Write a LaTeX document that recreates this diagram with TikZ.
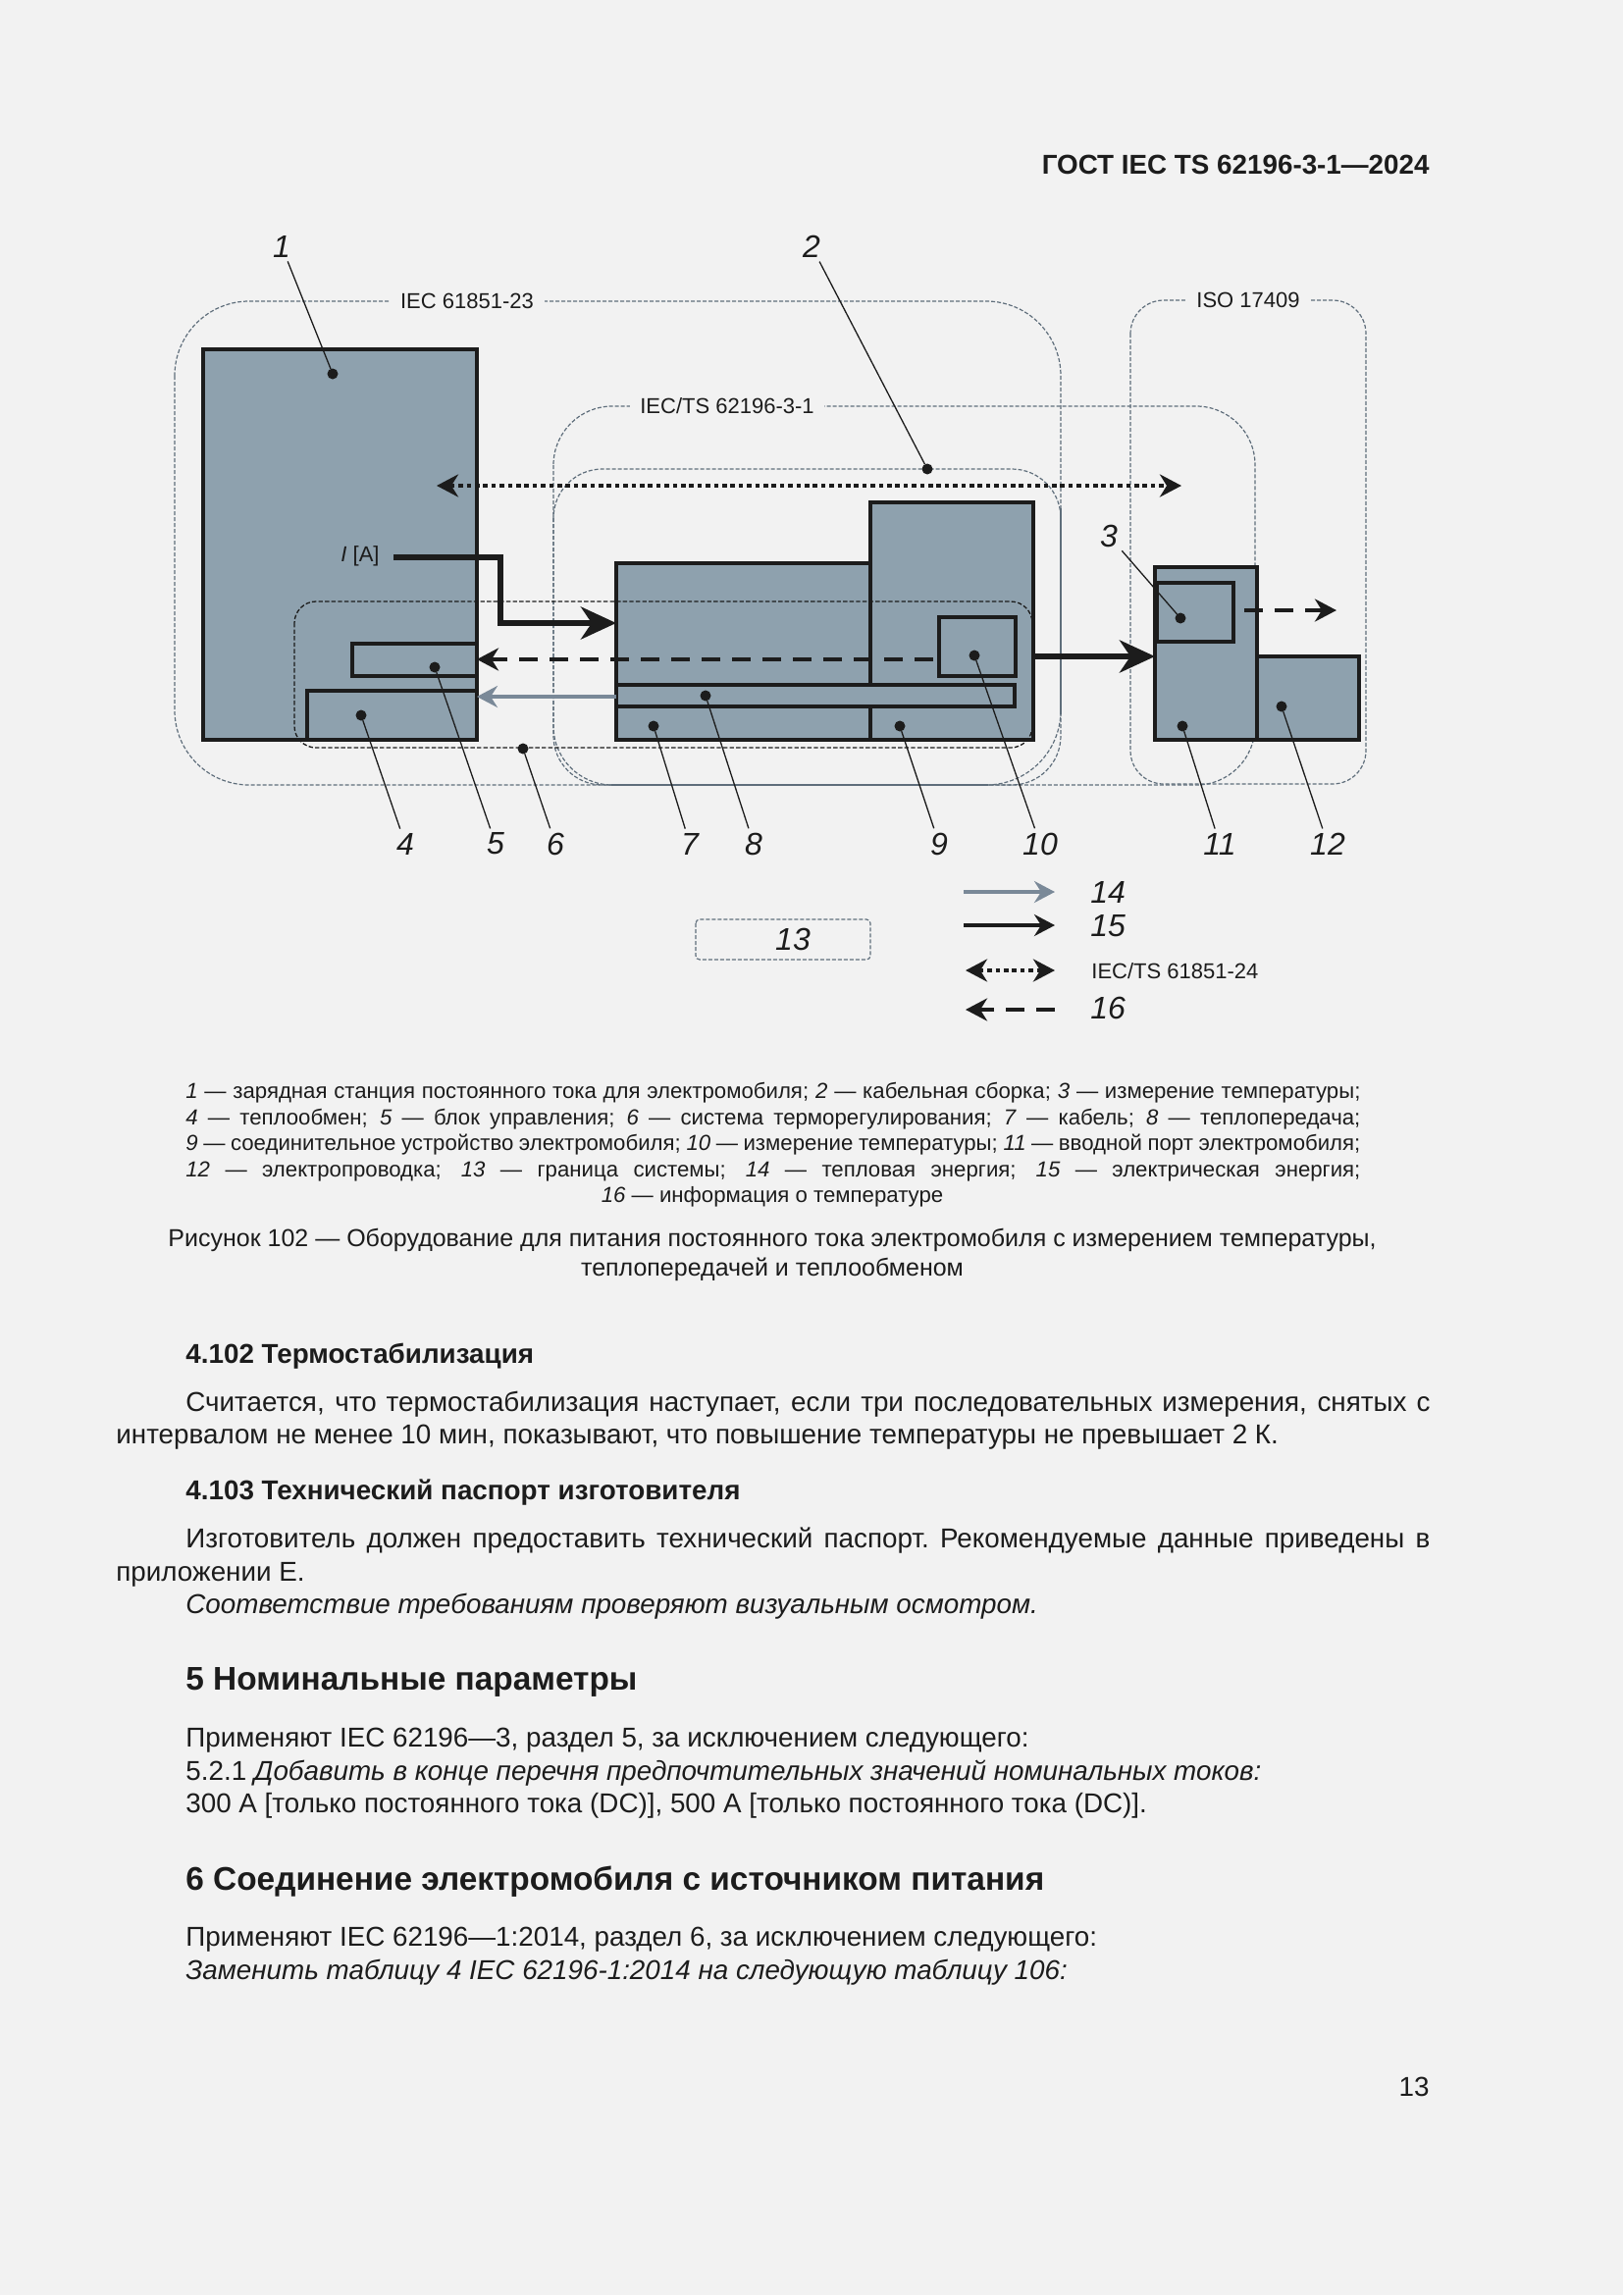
\documentclass[tikz,border=0pt]{standalone}
\usepackage{fontspec}
\setmainfont{Liberation Sans}
\usetikzlibrary{arrows.meta,fit}
\definecolor{pagecol}{HTML}{F2F2F2}
\definecolor{blockcol}{HTML}{8EA1AE}
\definecolor{inkcol}{HTML}{1C1C1C}
\definecolor{outlinecol}{HTML}{5F6E7B}
\definecolor{heatcol}{HTML}{7A8998}
\newcommand{\fitline}[1]{\makebox[598.5pt][s]{#1}}
\newcommand{\bodyline}[1]{\makebox[634pt][s]{#1}}
\tikzset{
  block/.style={draw=inkcol,line width=1.65pt,fill=blockcol,inner sep=0pt,outer sep=0pt},
  outline/.style={draw=outlinecol,line width=0.6pt,dash pattern=on 2pt off 1pt},
  tag/.style={font=\fontsize{11}{11}\selectfont,fill=pagecol,text=inkcol,inner sep=0pt},
  num/.style={font=\fontsize{16}{16}\selectfont\itshape,text=inkcol,inner sep=2pt},
  pin/.style={circle,fill=inkcol,minimum size=5.5pt,inner sep=0pt,outer sep=0pt},
  leader/.style={draw=inkcol,line width=0.65pt},
  power/.style={draw=inkcol,line width=3pt,-{Stealth[length=18pt,width=16.5pt,inset=5.5pt]}},
  heat/.style={draw=heatcol,line width=1.8pt,-{Stealth[length=10.5pt,width=11pt,inset=3.5pt]}},
  info/.style={draw=inkcol,line width=2.4pt,dash pattern=on 9.5pt off 6pt,-{Stealth[length=11pt,width=11.5pt,inset=3.5pt]}},
  comm/.style={draw=inkcol,line width=2.2pt,dash pattern=on 2.3pt off 1.9pt,{Stealth[length=11pt,width=11.5pt,inset=3.5pt]}-{Stealth[length=11pt,width=11.5pt,inset=3.5pt]}},
  small/.style={font=\fontsize{11.1}{13}\selectfont,text=inkcol,inner sep=0pt,anchor=base west},
  capt/.style={font=\fontsize{12.5}{15}\selectfont,text=inkcol,inner sep=0pt,anchor=base},
  body/.style={font=\fontsize{13.9}{16}\selectfont,text=inkcol,inner sep=0pt,anchor=base west},
  head/.style={font=\fontsize{16.7}{18}\selectfont\bfseries,text=inkcol,inner sep=0pt,anchor=base west},
}
\begin{document}
\begin{tikzpicture}[x=0.5pt,y=-0.5pt]
\fill[pagecol] (0,0) rectangle (1654,2339);
\useasboundingbox (0,0) rectangle (1654,2339);

% page header
\node[body,font=\fontsize{13.9}{16}\selectfont\bfseries,anchor=base east] (hdr) at (1457,177) {ГОСТ IEC TS 62196-3-1—2024};

% standard outlines
\draw[outline,rounded corners=38pt] (178,307) rectangle (1081,800);
\draw[outline,rounded corners=30pt] (564,414) rectangle (1279,800);
\draw[outline,rounded corners=25pt] (564,478) rectangle (1081,800);
\draw[outline,rounded corners=17pt] (1152,306) rectangle (1392,799);
\draw[draw=outlinecol,line width=0.6pt] (1081,518) -- (1081,728);
\draw[draw=outlinecol,line width=0.8pt] (623,800) -- (1007,800);
\node[tag,minimum width=79pt,minimum height=12pt] (std23) at (476,307) {IEC 61851-23};
\node[tag,minimum width=99pt,minimum height=12pt] (std3) at (741,414) {IEC/TS 62196-3-1};
\node[tag,minimum width=64pt,minimum height=12pt] (std17) at (1272,306) {ISO 17409};

% blocks
\node[block,fit={(207,356) (486,754)}] (station) {};
\node[block,fit={(313,704) (486,754)}] (exchanger) {};
\node[block,fit={(359,656) (486,689)}] (control) {};
\node[block,fit={(628,574) (887,754)}] (cable) {};
\node[block,fit={(887,512) (1053,754)}] (connector) {};
\node[block,fit={(628,698) (1034,720)}] (transfer) {};
\node[block,fit={(957,629) (1035,689)}] (meterb) {};
\node[block,fit={(1177,578) (1281,754)}] (inlet) {};
\node[block,fit={(1179,594) (1257,654)}] (metera) {};
\node[block,fit={(1281,669) (1385,754)}] (wiring) {};

% thermal system outline
\draw[draw=inkcol,line width=0.65pt,dash pattern=on 2.2pt off 1.1pt,rounded corners=11pt] (300,613) rectangle (1052,762);

% arrows
\coordinate (commL) at (445,495);
\coordinate (commR) at (1204,495);
\draw[comm] (commL) -- (commR);
\coordinate (istart) at (401,568);
\coordinate (ibend) at (510,635);
\draw[power] (istart) -| (ibend) -- (cable.west |- ibend);
\coordinate (powout) at (1053,669);
\draw[power] (powout) -- (inlet.west |- powout);
\coordinate (infostart) at (951,672);
\draw[info] (infostart) -- (control.east |- infostart);
\coordinate (heatstart) at (628,710);
\draw[heat] (heatstart) -- (exchanger.east |- heatstart);
\coordinate (tempstart) at (1268,622);
\coordinate (tempend) at (1362,622);
\draw[info] (tempstart) -- (tempend);
\node[font=\fontsize{11}{11}\selectfont,text=inkcol,inner sep=0pt] (ilabel) at (367,567) {\textit{I} [A]};

% numbers and leaders
\node[num] (lab1) at (287,251) {1};
\node[num] (lab2) at (827,251) {2};
\node[num] (lab3) at (1130,546) {3};
\node[num] (lab4) at (413,860) {4};
\node[num] (lab5) at (505,860) {5};
\node[num] (lab6) at (566,860) {6};
\node[num] (lab7) at (703,860) {7};
\node[num] (lab8) at (768,860) {8};
\node[num] (lab9) at (957,860) {9};
\node[num] (lab10) at (1060,860) {10};
\node[num] (lab11) at (1243,860) {11};
\node[num] (lab12) at (1353,860) {12};
\node[pin] (pin1) at (339,381) {};
\node[pin] (pin2) at (945,478) {};
\node[pin] (pin3) at (1203,630) {};
\node[pin] (pin4) at (368,729) {};
\node[pin] (pin5) at (443,680) {};
\node[pin] (pin6) at (533,763) {};
\node[pin] (pin7) at (666,740) {};
\node[pin] (pin8) at (719,709) {};
\node[pin] (pin9) at (917,740) {};
\node[pin] (pin10) at (993,668) {};
\node[pin] (pin11) at (1205,740) {};
\node[pin] (pin12) at (1306,720) {};
\draw[leader] (lab1) -- (pin1);
\draw[leader] (lab2) -- (pin2);
\draw[leader] (lab3) -- (pin3);
\draw[leader] (lab4) -- (pin4);
\draw[leader] (lab5) -- (pin5);
\draw[leader] (lab6) -- (pin6);
\draw[leader] (lab7) -- (pin7);
\draw[leader] (lab8) -- (pin8);
\draw[leader] (lab9) -- (pin9);
\draw[leader] (lab10) -- (pin10);
\draw[leader] (lab11) -- (pin11);
\draw[leader] (lab12) -- (pin12);

% legend
\draw[outline,rounded corners=2pt] (709,937) rectangle (887,978);
\node[num] (lab13) at (808,957) {13};
\coordinate (keyAl) at (982,909);
\coordinate (keyAr) at (1075,909);
\coordinate (keyBl) at (982,943);
\coordinate (keyBr) at (1075,943);
\coordinate (keyCl) at (984,989);
\coordinate (keyCr) at (1075,989);
\coordinate (keyDl) at (1075,1029);
\coordinate (keyDr) at (984,1029);
\draw[heat] (keyAl) -- (keyAr);
\draw[draw=inkcol,line width=1.8pt,-{Stealth[length=10.5pt,width=11pt,inset=3.5pt]}] (keyBl) -- (keyBr);
\draw[comm] (keyCl) -- (keyCr);
\draw[info] (keyDl) -- (keyDr);
\node[num,anchor=west,inner sep=0pt] (lab14) at (1111,909) {14};
\node[num,anchor=west,inner sep=0pt] (lab15) at (1111,944) {15};
\node[tag,fill=none,anchor=west] (std24) at (1112,990) {IEC/TS 61851-24};
\node[num,anchor=west,inner sep=0pt] (lab16) at (1111,1027) {16};

% key text
\node[small] (keya) at (189,1119) {\fitline{\textit{1} — зарядная станция постоянного тока для электромобиля; \textit{2} — кабельная сборка; \textit{3} — измерение температуры;}};
\node[small] (keyb) at (189,1146) {\fitline{\textit{4} — теплообмен; \textit{5} — блок управления; \textit{6} — система терморегулирования; \textit{7} — кабель; \textit{8} — теплопередача;}};
\node[small] (keyc) at (189,1172) {\fitline{\textit{9} — соединительное устройство электромобиля; \textit{10} — измерение температуры; \textit{11} — вводной порт электромобиля;}};
\node[small] (keyd) at (189,1199) {\fitline{\textit{12} — электропроводка; \textit{13} — граница системы; \textit{14} — тепловая энергия; \textit{15} — электрическая энергия;}};
\node[small,anchor=base] (keye) at (787,1225) {\textit{16} — информация о температуре};

% figure caption
\node[capt] (capa) at (787,1270) {Рисунок 102 — Оборудование для питания постоянного тока электромобиля с измерением температуры,};
\node[capt] (capb) at (787,1300) {теплопередачей и теплообменом};

% body text
\node[body,font=\fontsize{13.9}{16}\selectfont\bfseries] (seca) at (189,1389) {4.102 Термостабилизация};
\node[body] (para) at (189,1438) {\bodyline{Считается, что термостабилизация наступает, если три последовательных измерения, снятых с}};
\node[body] (parb) at (118,1471) {интервалом не менее 10 мин, показывают, что повышение температуры не превышает 2 К.};
\node[body,font=\fontsize{13.9}{16}\selectfont\bfseries] (secb) at (189,1528) {4.103 Технический паспорт изготовителя};
\node[body] (parc) at (189,1577) {\bodyline{Изготовитель должен предоставить технический паспорт.\ Рекомендуемые данные приведены в}};
\node[body] (pard) at (118,1611) {приложении Е.};
\node[body,font=\fontsize{13.9}{16}\selectfont\itshape] (pare) at (189,1644) {Соответствие требованиям проверяют визуальным осмотром.};
\node[head] (secc) at (189,1722) {5 Номинальные параметры};
\node[body] (parf) at (189,1780) {Применяют IEC 62196—3, раздел 5, за исключением следующего:};
\node[body] (parg) at (189,1814) {5.2.1 \textit{Добавить в конце перечня предпочтительных значений номинальных токов:}};
\node[body] (parh) at (189,1847) {300 А [только постоянного тока (DC)], 500 А [только постоянного тока (DC)].};
\node[head] (secd) at (189,1926) {6 Соединение электромобиля с источником питания};
\node[body] (pari) at (189,1983) {Применяют IEC 62196—1:2014, раздел 6, за исключением следующего:};
\node[body,font=\fontsize{13.9}{16}\selectfont\itshape] (parj) at (189,2017) {Заменить таблицу 4 IEC 62196-1:2014 на следующую таблицу 106:};
\node[body,anchor=base east] (pageno) at (1457,2136) {13};
\end{tikzpicture}
\end{document}
